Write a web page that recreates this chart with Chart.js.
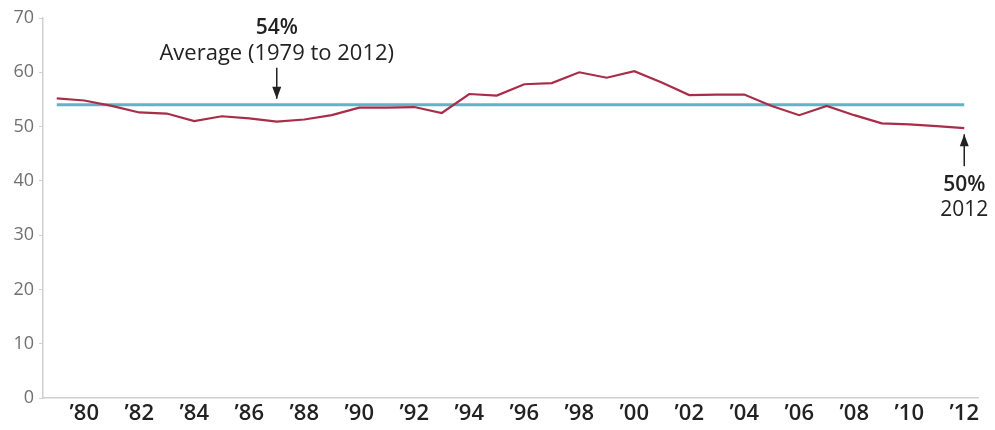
<!DOCTYPE html>
<html lang="en">
<head>
<meta charset="UTF-8">
<title>Share 1979-2012</title>
<script src="https://cdn.jsdelivr.net/npm/chart.js"></script>
<style>
    html, body { margin: 0; padding: 0; background: #fff; }
    #wrap { width: 995px; height: 430px; }
</style>
</head>
<body>
<div id="wrap"><canvas id="chart"></canvas></div>
<script>
// data
const years = [1979, 1980, 1981, 1982, 1983, 1984, 1985, 1986, 1987, 1988, 1989, 1990,
               1991, 1992, 1993, 1994, 1995, 1996, 1997, 1998, 1999, 2000, 2001, 2002,
               2003, 2004, 2005, 2006, 2007, 2008, 2009, 2010, 2011, 2012];
const shareValues = [55.2, 54.8, 53.8, 52.6, 52.4, 51.0, 51.9, 51.5, 50.9, 51.3, 52.1, 53.5,
                     53.5, 53.6, 52.5, 56.0, 55.7, 57.8, 58.0, 60.0, 59.0, 60.2, 58.1, 55.8,
                     55.9, 55.9, 53.8, 52.1, 53.8, 52.1, 50.6, 50.4, 50.1, 49.7];
const averageYears = [1979, 2012];
const averageValues = [54, 54];
const xTickYears = [1980, 1982, 1984, 1986, 1988, 1990, 1992, 1994, 1996, 1998, 2000,
                    2002, 2004, 2006, 2008, 2010, 2012];
const yTicks = [0, 10, 20, 30, 40, 50, 60, 70];

const notes = [
    { x: 1987, y: 54, bold: '54%', text: 'Average (1979 to 2012)', dir: 'down' },
    { x: 2012, y: 49.7, bold: '50%', text: '2012', dir: 'up' }
];

const fontFamily = '"Open Sans", Lato, sans-serif';

function arrow(ctx, x, y1, y2) {
    // shaft from y1 to tip at y2
    ctx.beginPath();
    ctx.moveTo(x, y1);
    ctx.lineTo(x, y2);
    ctx.stroke();
    const d = y2 > y1 ? -1 : 1;
    ctx.beginPath();
    ctx.moveTo(x, y2);
    ctx.lineTo(x - 4.5, y2 + d * 12);
    ctx.lineTo(x + 4.5, y2 + d * 12);
    ctx.closePath();
    ctx.fill();
}

const notesPlugin = {
    id: 'notes',
    afterDatasetsDraw(chart) {
        const ctx = chart.ctx;
        const xs = chart.scales.x, ys = chart.scales.y;
        ctx.save();
        ctx.fillStyle = '#222';
        ctx.strokeStyle = '#222';
        ctx.lineWidth = 1.5;
        ctx.textAlign = 'center';
        ctx.textBaseline = 'middle';
        notes.forEach(n => {
            const px = xs.getPixelForValue(n.x);
            const py = ys.getPixelForValue(n.y);
            if (n.dir === 'down') {
                arrow(ctx, px, py - 37, py - 6);
                ctx.font = '22px ' + fontFamily;
                ctx.fillText(n.text, px, py - 51);
                ctx.font = '600 21px ' + fontFamily;
                ctx.fillText(n.bold, px, py - 77);
            } else {
                arrow(ctx, px, py + 38, py + 6);
                ctx.font = '600 21px ' + fontFamily;
                ctx.fillText(n.bold, px, py + 57);
                ctx.font = '21px ' + fontFamily;
                ctx.fillText(n.text, px, py + 82);
            }
        });
        ctx.restore();
    }
};

const ctx = document.getElementById('chart').getContext('2d');
new Chart(ctx, {
    type: 'line',
    data: {
        datasets: [
            {
                label: 'Average',
                data: averageYears.map((y, i) => ({ x: y, y: averageValues[i] })),
                borderColor: '#5fb5c1',
                borderWidth: 3,
                pointRadius: 0,
                order: 2
            },
            {
                label: 'Share',
                data: years.map((y, i) => ({ x: y, y: shareValues[i] })),
                borderColor: '#a92d48',
                borderWidth: 2.2,
                pointRadius: 0,
                tension: 0,
                order: 1
            }
        ]
    },
    options: {
        responsive: true,
        maintainAspectRatio: false,
        animation: false,
        layout: { padding: { top: 18, right: 17, left: 0, bottom: 0 } },
        plugins: {
            legend: { display: false },
            tooltip: { enabled: false }
        },
        scales: {
            x: {
                type: 'linear',
                min: 1978.5,
                max: 2012.5,
                afterBuildTicks: s => { s.ticks = xTickYears.map(v => ({ value: v })); },
                ticks: {
                    autoSkip: false,
                    maxRotation: 0,
                    padding: 3,
                    color: '#222',
                    font: { family: fontFamily, size: 22, weight: '600' },
                    callback: v => '\u2019' + String(v).slice(2)
                },
                grid: { display: false, drawTicks: false },
                border: { display: true, color: '#d0d0d0', width: 1.5 },
                afterFit: s => { s.height = 32; }
            },
            y: {
                min: 0,
                max: 70,
                afterBuildTicks: s => { s.ticks = yTicks.map(v => ({ value: v })); },
                ticks: {
                    padding: 5,
                    color: '#707070',
                    font: { family: fontFamily, size: 18 }
                },
                grid: { display: true, drawOnChartArea: false, drawTicks: true, tickLength: 4, color: '#d0d0d0' },
                border: { display: true, color: '#d0d0d0', width: 1.5 },
                afterFit: s => { s.width = 43; }
            }
        }
    },
    plugins: [notesPlugin]
});
</script>
</body>
</html>
